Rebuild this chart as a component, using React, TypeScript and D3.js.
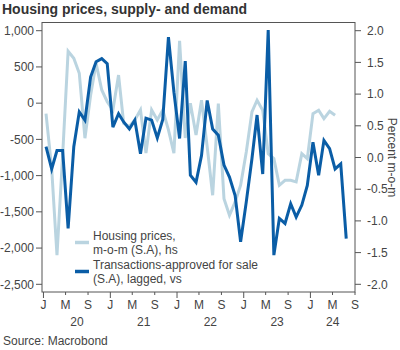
import * as d3 from 'd3';
import React, { useEffect, useRef } from 'react';

// monthly observations, first one is Jan 2020
const firstMonth = new Date(2020, 0, 15);

// Housing prices, m-o-m (S.A), left axis
const housingPrices = [
    -145, -904, -2099, -719, 716, 620, 413, -484, 109, 550,
    182, 21, -94, 388, -277, -323, -232, -94, -690, -94,
    -232, -94, -370, -690, 860, -480, 0, -440, 40, -600,
    -1271, -7, -1318, -1547, -1363, -1133, -673, -121, 40, -98,
    -697, -766, -1133, -1064, -1064, -1087, -697, -766, -145, -98,
    -214, -112, -167,
];

// Transactions-approved for sale (S.A), lagged, right axis
const transactions = [
    0.17, -0.18, 0.11, 0.11, -1.12, 0.17, 0.72, 0.59, 1.27, 1.51,
    1.56, 1.48, 0.48, 0.69, 0.56, 0.45, 0.59, 0.06, 0.62, 0.59,
    0.31, 0.6, 1.9, 1.03, 0.3, 1.52, -0.28, -0.39, 0.03, 0.9,
    0.45, 0.35, -0.12, -0.31, -0.6, -1.33, -0.7, -0.02, 0.67, -0.26,
    2.01, -1.54, -0.96, -1.04, -0.73, -0.94, -0.75, -0.44, 0.24, -0.28,
    0.27, 0.14, -0.18, -0.1, -1.28,
];

const leftTicks = [1000, 500, 0, -500, -1000, -1500, -2000, -2500];
const rightTicks = [2, 1.5, 1, 0.5, 0, -0.5, -1, -1.5, -2];
const years = [2020, 2021, 2022, 2023, 2024];
const monthLetters = ['J', 'F', 'M', 'A', 'M', 'J', 'J', 'A', 'S', 'O', 'N', 'D'];

const legendItems = [
    { lines: ['Housing prices,', 'm-o-m (S.A), hs'], color: '#bad4e0' },
    { lines: ['Transactions-approved for sale', '(S.A), lagged, vs'], color: '#0a5da6' },
];

function HousingChart({ width = 400, height = 350 }) {
    const svgRef = useRef(null);

    useEffect(() => {
        const svg = d3.select(svgRef.current);
        svg.selectAll('*').remove();

        const font = 'Liberation Sans, Arial, sans-serif';
        const textColor = '#444';
        const axisColor = '#555';

        const plot = { left: 42, right: 355, top: 22.5, bottom: 292 };

        // --- Scales ---
        const x = d3.scaleTime()
            .domain([new Date(2019, 11, 24), new Date(2024, 8, 1)])
            .range([plot.left, plot.right]);

        const yLeft = d3.scaleLinear().domain([-2500, 1000]).range([284.3, 30.7]);
        const yRight = d3.scaleLinear().domain([-2, 2]).range([284.3, 30.7]);

        const dateOf = i => d3.timeMonth.offset(firstMonth, i);

        // --- Title / source ---
        svg.append('text')
            .attr('x', 2).attr('y', 14)
            .style('font-family', font).style('font-size', '14px').style('font-weight', 'bold')
            .attr('fill', '#333')
            .text('Housing prices, supply- and demand');

        svg.append('text')
            .attr('x', 3).attr('y', 345)
            .style('font-family', font).style('font-size', '12px')
            .attr('fill', textColor)
            .text('Source: Macrobond');

        // --- Frame ---
        svg.append('rect')
            .attr('x', plot.left).attr('y', plot.top)
            .attr('width', plot.right - plot.left).attr('height', plot.bottom - plot.top)
            .attr('fill', 'none').attr('stroke', axisColor).attr('stroke-width', 1);

        // --- Left axis ---
        const fmtLeft = d => d3.format(',')(d).replace('\u2212', '-');
        const gl = svg.append('g');
        gl.selectAll('line').data(leftTicks).join('line')
            .attr('x1', plot.left - 6).attr('x2', plot.left)
            .attr('y1', d => yLeft(d)).attr('y2', d => yLeft(d))
            .attr('stroke', axisColor);
        gl.selectAll('text').data(leftTicks).join('text')
            .attr('x', plot.left - 8).attr('y', d => yLeft(d)).attr('dy', '0.35em')
            .attr('text-anchor', 'end')
            .style('font-family', font).style('font-size', '12px')
            .attr('fill', textColor)
            .text(fmtLeft);

        // --- Right axis ---
        const fmtRight = d => d3.format('.1f')(d).replace('\u2212', '-');
        const gr = svg.append('g');
        gr.selectAll('line').data(rightTicks).join('line')
            .attr('x1', plot.right).attr('x2', plot.right + 6)
            .attr('y1', d => yRight(d)).attr('y2', d => yRight(d))
            .attr('stroke', axisColor);
        gr.selectAll('text').data(rightTicks).join('text')
            .attr('x', plot.right + 12).attr('y', d => yRight(d)).attr('dy', '0.35em')
            .style('font-family', font).style('font-size', '12px')
            .attr('fill', textColor)
            .text(fmtRight);

        svg.append('text')
            .attr('transform', `translate(387.5,${(30.7 + 284.3) / 2}) rotate(90)`)
            .attr('text-anchor', 'middle')
            .style('font-family', font).style('font-size', '12px')
            .attr('fill', textColor)
            .text('Percent m-o-m');

        // --- Bottom axis: ticks every 4 months (J, M, S) ---
        const monthTicks = d3.timeMonth.every(4).range(new Date(2020, 0, 1), new Date(2024, 8, 2));
        const gx = svg.append('g');
        gx.selectAll('line').data(monthTicks).join('line')
            .attr('x1', d => x(d)).attr('x2', d => x(d))
            .attr('y1', plot.bottom)
            .attr('y2', d => plot.bottom + (d.getMonth() === 0 ? 6 : 3))
            .attr('stroke', axisColor);
        gx.selectAll('text.m').data(monthTicks).join('text')
            .attr('class', 'm')
            .attr('x', d => x(d)).attr('y', 309)
            .attr('text-anchor', 'middle')
            .style('font-family', font).style('font-size', '12px')
            .attr('fill', textColor)
            .text(d => monthLetters[d.getMonth()]);
        gx.selectAll('text.y').data(years).join('text')
            .attr('class', 'y')
            .attr('x', d => {
                const a = Math.max(x(new Date(d, 0, 1)), plot.left);
                const b = Math.min(x(new Date(d + 1, 0, 1)), plot.right);
                return (a + b) / 2;
            })
            .attr('y', 326)
            .attr('text-anchor', 'middle')
            .style('font-family', font).style('font-size', '12px')
            .attr('fill', textColor)
            .text(d => String(d).slice(2));

        // --- Lines ---
        const lineLeft = d3.line()
            .x((d, i) => x(dateOf(i)))
            .y(d => yLeft(d));
        const lineRight = d3.line()
            .x((d, i) => x(dateOf(i)))
            .y(d => yRight(d));

        svg.append('path')
            .attr('d', lineLeft(housingPrices))
            .attr('fill', 'none')
            .attr('stroke', legendItems[0].color)
            .attr('stroke-width', 3)
            .attr('stroke-linejoin', 'miter');

        svg.append('path')
            .attr('d', lineRight(transactions))
            .attr('fill', 'none')
            .attr('stroke', legendItems[1].color)
            .attr('stroke-width', 3)
            .attr('stroke-linejoin', 'miter');

        // --- Legend ---
        const legendY = [236, 265];
        legendItems.forEach((item, k) => {
            const g = svg.append('g');
            g.append('line')
                .attr('x1', 75).attr('x2', 89)
                .attr('y1', legendY[k] + 6.5).attr('y2', legendY[k] + 6.5)
                .attr('stroke', item.color).attr('stroke-width', 3.5);
            item.lines.forEach((t, j) => {
                g.append('text')
                    .attr('x', 93).attr('y', legendY[k] + j * 13.5).attr('dy', '0.35em')
                    .style('font-family', font).style('font-size', '12px')
                    .attr('fill', textColor)
                    .text(t);
            });
        });
    }, [width, height]);

    return (
        <svg ref={svgRef} width={width} height={height}
            style={{ position: 'absolute', left: 0, top: 0, background: '#fff' }} />
    );
}

export default function App() {
    return <HousingChart />;
}
